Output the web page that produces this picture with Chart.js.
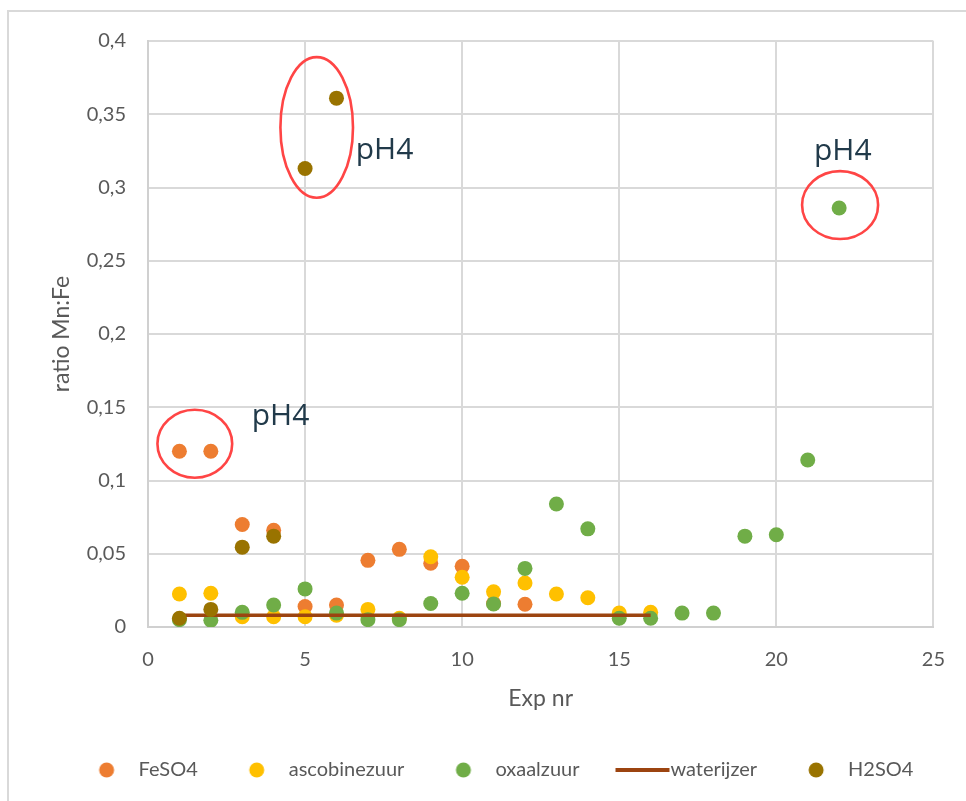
<!DOCTYPE html>
<html>
<head>
<meta charset="utf-8">
<script src="https://cdn.jsdelivr.net/npm/chart.js@4.4.1/dist/chart.umd.min.js"></script>
<style>
html, body { margin: 0; padding: 0; background: #fff; overflow: hidden; }
#frame { position: absolute; left: 7px; top: 10px; width: 1000px; height: 1000px; border: 2px solid #d9d9d9; }
#wrap { position: absolute; left: 0; top: 0; width: 966px; height: 801px; }
</style>
</head>
<body>
<div id="frame"></div>
<div id="wrap"><canvas id="chart"></canvas></div>
<script>
// values
const expFeSO4 = [1, 2, 3, 4, 5, 6, 7, 8, 9, 10, 11, 12];
const ratioFeSO4 = [0.12, 0.12, 0.070, 0.066, 0.014, 0.015, 0.0455, 0.053, 0.0435, 0.0415, 0.016, 0.0155];

const expAscobine = [1, 2, 3, 4, 5, 6, 7, 8, 9, 10, 11, 12, 13, 14, 15, 16];
const ratioAscobine = [0.0225, 0.023, 0.007, 0.007, 0.007, 0.008, 0.012, 0.006, 0.048, 0.034, 0.024, 0.030, 0.0225, 0.020, 0.0095, 0.010];

const expOxaal = [1, 2, 3, 4, 5, 6, 7, 8, 9, 10, 11, 12, 13, 14, 15, 16, 17, 18, 19, 20, 21, 22];
const ratioOxaal = [0.005, 0.0046, 0.010, 0.015, 0.026, 0.0095, 0.005, 0.005, 0.016, 0.023, 0.0157, 0.040, 0.084, 0.067, 0.006, 0.006, 0.0095, 0.0095, 0.062, 0.063, 0.114, 0.286];

const expWater = [1, 2, 3, 4, 5, 6, 7, 8, 9, 10, 11, 12, 13, 14, 15, 16];
const ratioWater = [0.008, 0.008, 0.008, 0.008, 0.008, 0.008, 0.008, 0.008, 0.008, 0.008, 0.008, 0.008, 0.008, 0.008, 0.008, 0.008];

const expH2SO4 = [1, 2, 3, 4, 5, 6];
const ratioH2SO4 = [0.006, 0.012, 0.0545, 0.062, 0.313, 0.361];

const pts = (xs, ys) => xs.map((x, i) => ({x: x, y: ys[i]}));

// legend markers drawn into small canvases, so the dot can sit well left of its text
const BOX = 76;
function dotMarker(color) {
    const c = document.createElement('canvas');
    c.width = BOX; c.height = 16;
    const g = c.getContext('2d');
    g.fillStyle = color;
    g.beginPath(); g.arc(BOX - 22, 8, 7.5, 0, Math.PI * 2); g.fill();
    return c;
}
function lineMarker(color) {
    const c = document.createElement('canvas');
    c.width = 96; c.height = 4;
    const g = c.getContext('2d');
    g.fillStyle = color;
    g.fillRect(41, 0, 54, 4);
    return c;
}

const marks = {
    id: 'marks',
    afterDatasetsDraw(chart, args, opts) {
        const {ctx, scales: {x, y}} = chart;
        ctx.save();
        opts.rings.forEach(r => {
            const cx = x.getPixelForValue(r.x), cy = y.getPixelForValue(r.y);
            const rx = x.getPixelForValue(r.x + r.rx) - cx;
            const ry = cy - y.getPixelForValue(r.y + r.ry);
            ctx.beginPath();
            ctx.ellipse(cx, cy, rx, ry, 0, 0, Math.PI * 2);
            ctx.strokeStyle = '#ff4545';
            ctx.lineWidth = 2.6;
            ctx.stroke();
        });
        ctx.font = '30px "Open Sans"';
        ctx.fillStyle = '#213a4a';
        ctx.textBaseline = 'alphabetic';
        opts.labels.forEach(l => ctx.fillText(l.text, x.getPixelForValue(l.x), y.getPixelForValue(l.y)));
        ctx.restore();
    }
};

const grey = '#595959';

new Chart(document.getElementById('chart'), {
    type: 'scatter',
    data: {
        datasets: [
            {label: 'FeSO4', data: pts(expFeSO4, ratioFeSO4), backgroundColor: '#ed7d31', borderColor: '#ed7d31', order: 5},
            {label: 'ascobinezuur', data: pts(expAscobine, ratioAscobine), backgroundColor: '#ffc000', borderColor: '#ffc000', order: 4},
            {label: 'oxaalzuur', data: pts(expOxaal, ratioOxaal), backgroundColor: '#70ad47', borderColor: '#70ad47', order: 3},
            {label: 'waterijzer', type: 'line', data: pts(expWater, ratioWater), borderColor: '#9c4410', backgroundColor: '#9c4410',
                borderWidth: 3.5, pointRadius: 0, showLine: true, fill: false, order: 2},
            {label: 'H2SO4', data: pts(expH2SO4, ratioH2SO4), backgroundColor: '#997300', borderColor: '#997300', order: 1}
        ]
    },
    options: {
        maintainAspectRatio: false,
        animation: false,
        layout: {padding: {left: 30, right: 30, top: 41, bottom: 11}},
        elements: {point: {radius: 7.5, borderWidth: 0, hoverRadius: 7.5}},
        scales: {
            x: {
                min: 0, max: 25,
                afterFit: s => { s.height = 128; },
                ticks: {stepSize: 5, color: grey, padding: 21, font: {family: 'Lato', size: 20}},
                grid: {color: '#d9d9d9', lineWidth: 2, drawTicks: false},
                border: {color: '#d0d0d0', width: 2},
                title: {display: true, text: 'Exp nr', color: grey, font: {family: 'Lato', size: 23}, padding: {top: 0, bottom: 43}}
            },
            y: {
                min: 0, max: 0.4,
                afterFit: s => { s.width = 118; },
                ticks: {
                    stepSize: 0.05, color: grey, padding: 22, font: {family: 'Lato', size: 20},
                    callback: v => String(Math.round(v * 100) / 100).replace('.', ',')
                },
                grid: {color: '#d9d9d9', lineWidth: 2, drawTicks: false},
                border: {color: '#d0d0d0', width: 2},
                title: {display: true, text: 'ratio Mn:Fe', color: grey, font: {family: 'Lato', size: 23}, padding: {top: 18, bottom: 0}}
            }
        },
        plugins: {
            tooltip: {enabled: false},
            legend: {
                position: 'bottom',
                labels: {
                    usePointStyle: true,
                    pointStyleWidth: BOX,
                    padding: 5,
                    color: grey,
                    font: {family: 'Lato', size: 20},
                    generateLabels: chart => chart.data.datasets.map((ds, i) => ({
                        text: ds.label,
                        fillStyle: ds.backgroundColor,
                        strokeStyle: ds.borderColor,
                        lineWidth: 0,
                        fontColor: grey,
                        pointStyle: ds.type === 'line' ? lineMarker(ds.borderColor) : dotMarker(ds.backgroundColor),
                        hidden: !chart.isDatasetVisible(i),
                        datasetIndex: i
                    }))
                }
            },
            marks: {
                rings: [
                    {x: 1.49, y: 0.1251, rx: 1.19, ry: 0.0232},
                    {x: 5.37, y: 0.341, rx: 1.155, ry: 0.048},
                    {x: 22.03, y: 0.288, rx: 1.21, ry: 0.0232}
                ],
                labels: [
                    {text: 'pH4', x: 3.30, y: 0.1377},
                    {text: 'pH4', x: 6.61, y: 0.3197},
                    {text: 'pH4', x: 21.2, y: 0.319}
                ]
            }
        }
    },
    plugins: [marks]
});
</script>
</body>
</html>
